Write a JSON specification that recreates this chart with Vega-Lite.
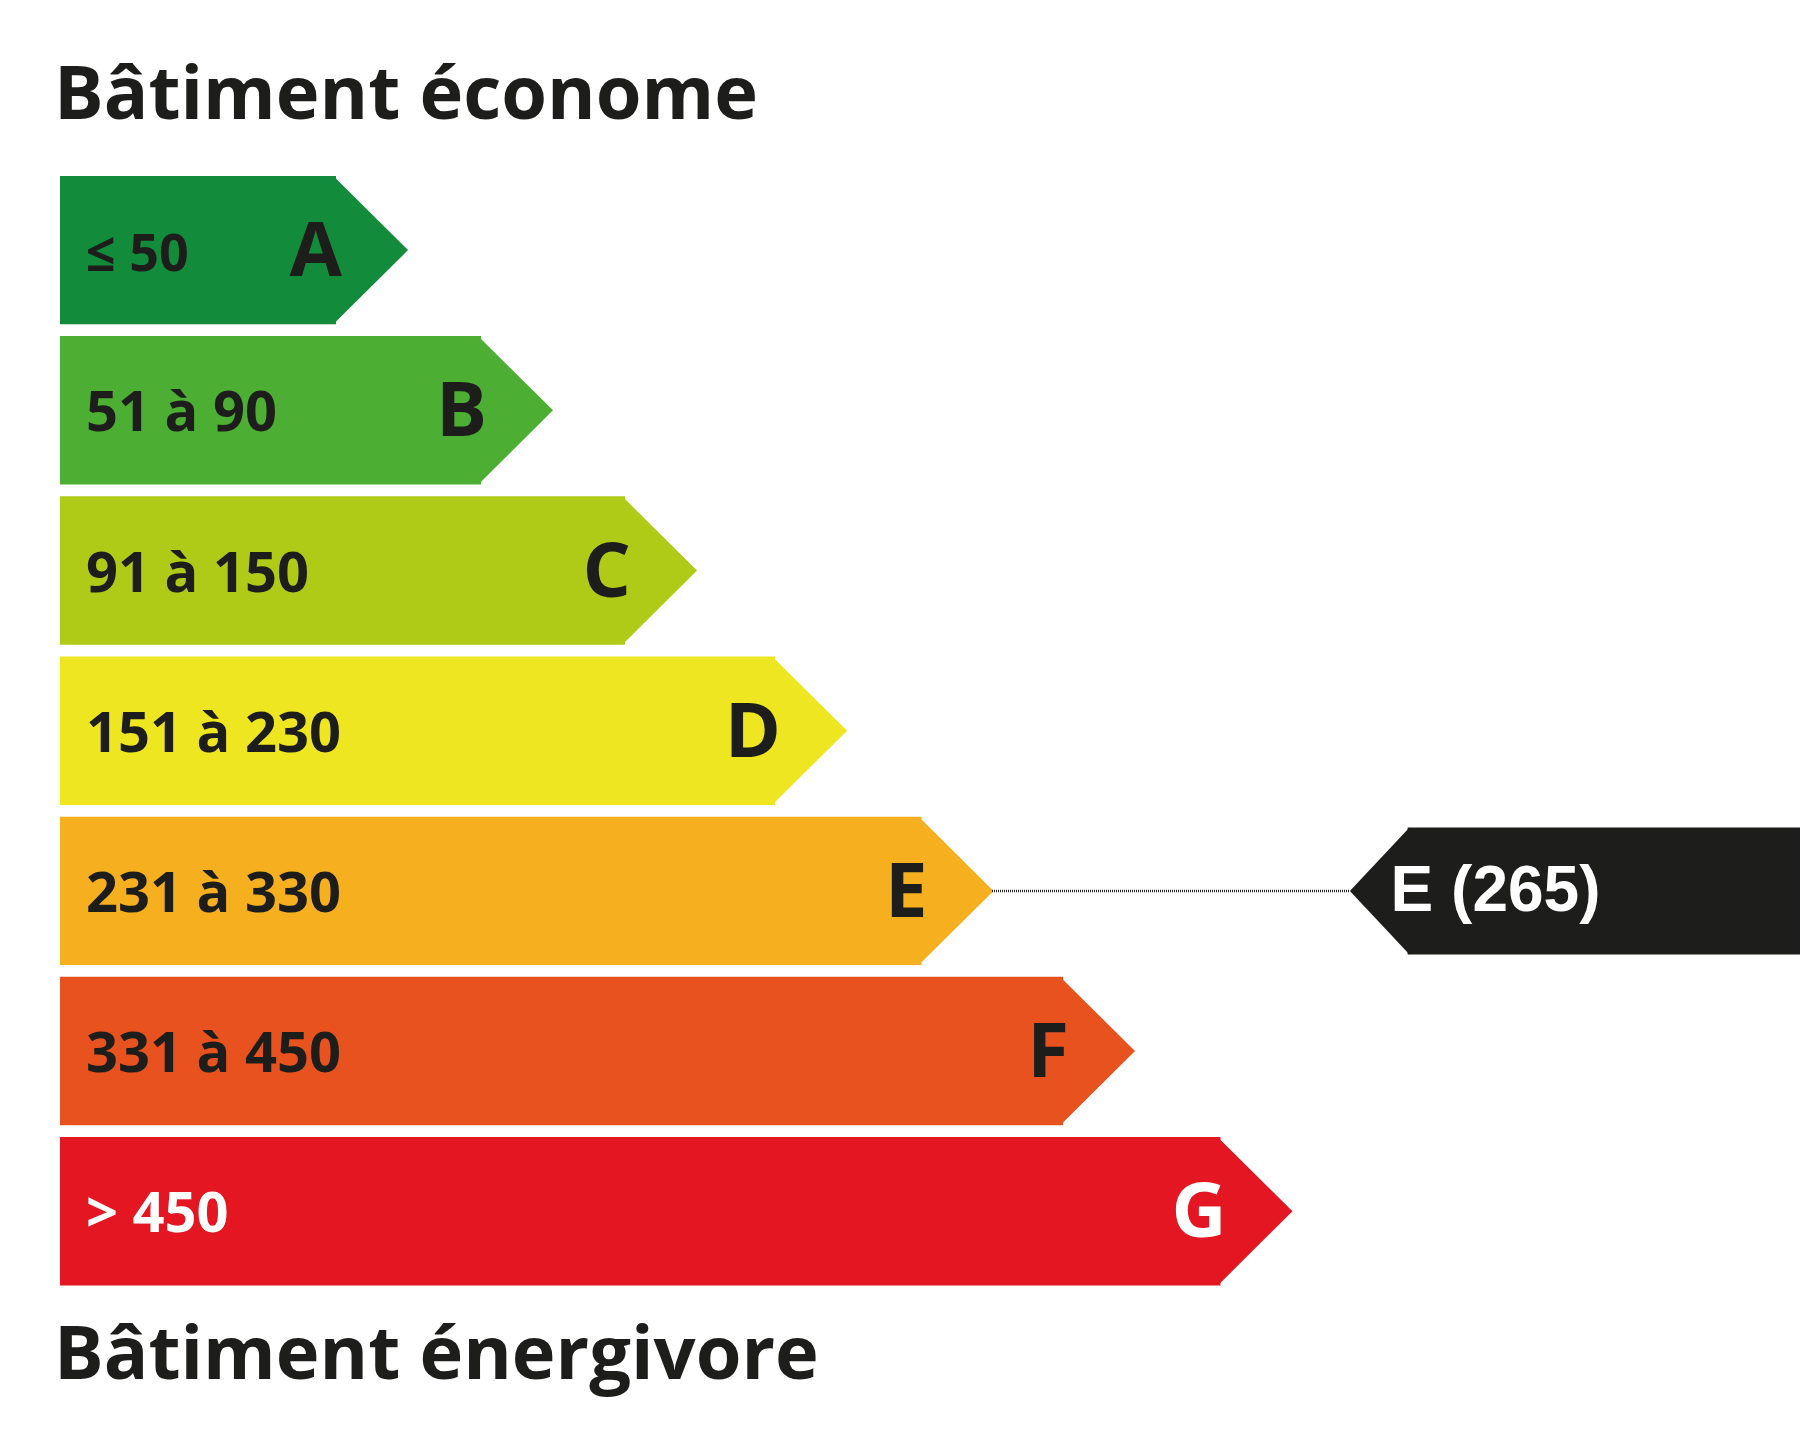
{
  "$schema": "https://vega.github.io/schema/vega-lite/v6.json",
  "width": 1800,
  "height": 1430,
  "padding": 0,
  "autosize": {"type": "none"},
  "background": "white",
  "config": {"view": {"stroke": null}},
  "datasets": {
    "classes": [
      {"classe": "A", "plage": "≤ 50", "longueur": 27.6},
      {"classe": "B", "plage": "51 à 90", "longueur": 42.1},
      {"classe": "C", "plage": "91 à 150", "longueur": 56.5},
      {"classe": "D", "plage": "151 à 230", "longueur": 71.5},
      {"classe": "E", "plage": "231 à 330", "longueur": 86.15},
      {"classe": "F", "plage": "331 à 450", "longueur": 100.3},
      {"classe": "G", "plage": "> 450", "longueur": 116.05}
    ],
    "indicateur": [
      {"classe": "E", "valeur": 265, "etiquette": "E (265)"}
    ]
  },
  "layer": [
    {
      "data": {"name": "classes"},
      "mark": {"type": "bar", "cornerRadius": 0},
      "encoding": {
        "y": {"field": "classe", "type": "nominal", "axis": null,
              "scale": {"domain": ["A", "B", "C", "D", "E", "F", "G"], "paddingInner": 0.0734, "paddingOuter": 1.013, "align": 0.549}},
        "x": {"field": "longueur", "type": "quantitative", "axis": null,
              "scale": {"domain": [-6, 174], "nice": false, "zero": false}},
        "x2": {"datum": 0},
        "color": {"field": "classe", "type": "nominal", "legend": null,
                  "scale": {"domain": ["A", "B", "C", "D", "E", "F", "G"],
                            "range": ["#128c3b", "#4dae34", "#afcb18", "#eee620", "#f6b01f", "#e8521e", "#e31622"]}}
      }
    },
    {
      "data": {"name": "classes"},
      "mark": {"type": "point", "shape": "M-0.03,-0.995L0.973,0L-0.03,0.995Z", "size": 21904, "filled": true, "opacity": 1, "strokeWidth": 0},
      "encoding": {
        "y": {"field": "classe", "type": "nominal"},
        "x": {"field": "longueur", "type": "quantitative"},
        "color": {"field": "classe", "type": "nominal"}
      }
    },
    {
      "data": {"name": "classes"},
      "mark": {"type": "text", "align": "left", "baseline": "alphabetic", "dx": 26, "dy": 21, "font": "Open Sans", "fontWeight": "bold"},
      "encoding": {
        "y": {"field": "classe", "type": "nominal"},
        "x": {"datum": 0},
        "text": {"field": "plage"},
        "size": {"condition": {"test": "datum.classe === 'A'", "value": 52}, "value": 56},
        "color": {"condition": {"test": "datum.classe === 'G'", "value": "#ffffff"}, "value": "#1d1d1b"}
      }
    },
    {
      "data": {"name": "classes"},
      "mark": {"type": "text", "align": "right", "baseline": "alphabetic", "dx": 6, "dy": 26, "fontSize": 76, "font": "Open Sans", "fontWeight": "bold"},
      "encoding": {
        "y": {"field": "classe", "type": "nominal"},
        "x": {"field": "longueur", "type": "quantitative"},
        "text": {"field": "classe"},
        "color": {"condition": {"test": "datum.classe === 'G'", "value": "#ffffff"}, "value": "#1d1d1b"}
      }
    },
    {
      "data": {"values": [{"titre": "Bâtiment économe"}]},
      "mark": {"type": "text", "align": "left", "baseline": "alphabetic", "dx": -6, "dy": -131.5, "fontSize": 74, "font": "Open Sans", "fontWeight": "bold", "color": "#1d1d1b"},
      "encoding": {
        "y": {"datum": "A", "type": "nominal"},
        "x": {"datum": 0},
        "text": {"field": "titre"}
      }
    },
    {
      "data": {"values": [{"titre": "Bâtiment énergivore"}]},
      "mark": {"type": "text", "align": "left", "baseline": "alphabetic", "dx": -6, "dy": 168, "fontSize": 74, "font": "Open Sans", "fontWeight": "bold", "color": "#1d1d1b"},
      "encoding": {
        "y": {"datum": "G", "type": "nominal"},
        "x": {"datum": 0},
        "text": {"field": "titre"}
      }
    },
    {
      "data": {"name": "indicateur"},
      "mark": {"type": "rule", "strokeWidth": 2.5, "strokeDash": [1, 1], "color": "#222222"},
      "encoding": {
        "y": {"field": "classe", "type": "nominal"},
        "x": {"datum": 93.2},
        "x2": {"datum": 129}
      }
    },
    {
      "data": {"name": "indicateur"},
      "mark": {"type": "bar", "height": 127, "color": "#1d1d1b"},
      "encoding": {
        "y": {"field": "classe", "type": "nominal"},
        "x": {"datum": 134.76},
        "x2": {"datum": 174}
      }
    },
    {
      "data": {"name": "indicateur"},
      "mark": {"type": "point", "shape": "M0.03,-1L-0.909,0L0.03,1Z", "size": 16130, "filled": true, "opacity": 1, "strokeWidth": 0, "color": "#1d1d1b"},
      "encoding": {
        "y": {"field": "classe", "type": "nominal"},
        "x": {"datum": 134.76}
      }
    },
    {
      "data": {"name": "indicateur"},
      "mark": {"type": "text", "align": "left", "baseline": "alphabetic", "dx": -17, "dy": 20, "fontSize": 64, "font": "Liberation Sans", "fontWeight": "bold", "color": "#ffffff"},
      "encoding": {
        "y": {"field": "classe", "type": "nominal"},
        "x": {"datum": 134.76},
        "text": {"field": "etiquette"}
      }
    }
  ]
}
